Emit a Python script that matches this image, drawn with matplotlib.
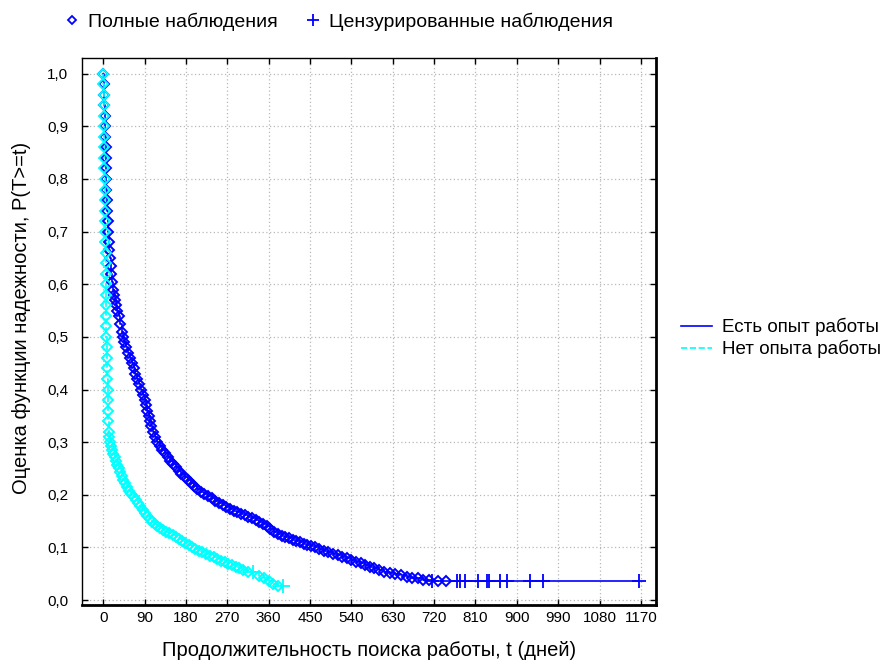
import matplotlib
matplotlib.use("Agg")
import matplotlib.pyplot as plt
from matplotlib.lines import Line2D
from matplotlib.ticker import FixedLocator, FuncFormatter

plt.rcParams['font.family'] = ['Liberation Sans', 'DejaVu Sans']

# --- Есть опыт работы (blue): complete observations, t (days) and S(t)
exp_t = [0, 1, 2, 2, 3, 3, 4, 5, 5, 6, 7, 7, 8, 9, 10, 11, 12, 13, 14, 16,
         18, 20, 22, 24, 26, 28, 31, 34, 37, 40, 43, 46, 50, 54, 58, 62, 66,
         70, 74, 78, 82, 86, 90, 93, 96, 99, 102, 105, 109, 113, 118, 123, 128,
         134, 140, 146, 152, 158, 164, 170, 177, 184, 191, 198, 205, 212, 220,
         228, 236, 244, 252, 260, 268, 276, 284, 292, 300, 308, 316, 324, 332,
         340, 348, 356, 364, 372, 380, 388, 396, 404, 412, 420, 428, 436, 444,
         452, 460, 470, 480, 490, 500, 510, 520, 530, 540, 550, 560, 570, 580,
         590, 600, 612, 624, 636, 648, 660, 672, 684, 696, 710, 728, 745]
exp_s = [1.0, 0.98, 0.96, 0.94, 0.92, 0.90, 0.88, 0.86, 0.84, 0.82, 0.80, 0.78,
         0.76, 0.74, 0.72, 0.70, 0.68, 0.665, 0.65, 0.635, 0.62, 0.605, 0.59,
         0.58, 0.57, 0.56, 0.55, 0.54, 0.525, 0.51, 0.50, 0.49, 0.48, 0.47,
         0.46, 0.45, 0.44, 0.43, 0.42, 0.41, 0.40, 0.39, 0.38, 0.37, 0.36,
         0.35, 0.34, 0.33, 0.32, 0.31, 0.30, 0.293, 0.286, 0.279, 0.272, 0.265,
         0.258, 0.252, 0.246, 0.24, 0.234, 0.228, 0.222, 0.216, 0.211, 0.206,
         0.201, 0.197, 0.193, 0.189, 0.185, 0.181, 0.177, 0.173, 0.17, 0.167,
         0.164, 0.161, 0.158, 0.155, 0.152, 0.149, 0.145, 0.14, 0.135, 0.13,
         0.126, 0.122, 0.119, 0.117, 0.114, 0.112, 0.11, 0.107, 0.105, 0.102,
         0.1, 0.097, 0.094, 0.091, 0.088, 0.085, 0.082, 0.079, 0.076, 0.073,
         0.07, 0.066, 0.063, 0.06, 0.057, 0.054, 0.051, 0.049, 0.047, 0.044,
         0.042, 0.041, 0.039, 0.038, 0.037, 0.036]
# censored observations
exp_cens_t = [715, 770, 776, 787, 815, 835, 839, 863, 878, 928, 957, 1166]
exp_cens_s = [0.037, 0.036, 0.036, 0.036, 0.036, 0.036, 0.036, 0.036, 0.036,
              0.036, 0.036, 0.036]

# --- Нет опыта работы (cyan)
noexp_t = [0, 0, 1, 1, 1, 1, 2, 2, 2, 2, 3, 3, 3, 3, 4, 4, 4, 5, 5, 5, 6, 6,
           6, 7, 7, 7, 8, 8, 9, 9, 10, 10, 11, 11, 12, 13, 15, 17, 19, 22, 25,
           28, 31, 34, 37, 40, 44, 48, 52, 56, 61, 66, 71, 76, 81, 86, 91, 96,
           101, 106, 112, 118, 124, 130, 137, 144, 151, 158, 165, 172, 179, 186,
           193, 200, 208, 216, 224, 232, 240, 248, 256, 264, 272, 280, 288, 296,
           304, 314, 340, 350, 360, 370, 380]
noexp_s = [1.0, 0.98, 0.96, 0.94, 0.92, 0.90, 0.88, 0.86, 0.84, 0.82, 0.80,
           0.78, 0.76, 0.74, 0.72, 0.70, 0.68, 0.66, 0.64, 0.62, 0.60, 0.58,
           0.56, 0.54, 0.52, 0.50, 0.48, 0.46, 0.44, 0.42, 0.40, 0.38, 0.36,
           0.34, 0.32, 0.31, 0.30, 0.292, 0.285, 0.278, 0.271, 0.264, 0.257,
           0.25, 0.243, 0.236, 0.229, 0.222, 0.215, 0.208, 0.202, 0.196, 0.19,
           0.184, 0.178, 0.172, 0.166, 0.16, 0.154, 0.149, 0.144, 0.14, 0.136,
           0.133, 0.13, 0.127, 0.124, 0.12, 0.116, 0.112, 0.108, 0.104, 0.1,
           0.097, 0.094, 0.091, 0.087, 0.084, 0.081, 0.078, 0.075, 0.072, 0.069,
           0.066, 0.063, 0.06, 0.057, 0.054, 0.046, 0.041, 0.036, 0.031, 0.026]
noexp_cens_t = [326, 391]
noexp_cens_s = [0.054, 0.026]

xticks = list(range(0, 1171, 90))
yticks = [i / 10 for i in range(11)]

BLUE = '#0000ff'
CYAN = '#00ffff'

fig = plt.figure(figsize=(8.92, 6.62), dpi=100)
ax = fig.add_axes([0.092, 0.086, 0.6435, 0.8265])

for t, s, ct, cs, col, ls in [(exp_t, exp_s, exp_cens_t, exp_cens_s, BLUE, '-'),
                              (noexp_t, noexp_s, noexp_cens_t, noexp_cens_s, CYAN, '--')]:
    pts = sorted(list(zip(t, s)) + list(zip(ct, cs)), key=lambda p: (p[0], -p[1]))
    ax.plot([p[0] for p in pts], [p[1] for p in pts], color=col, ls=ls,
            lw=1.2, drawstyle='steps-post', zorder=3)
    ax.plot(t, s, ls='none', marker='D', ms=5, mew=1.4, fillstyle='none',
            color=col, zorder=4)
    ax.plot(ct, cs, ls='none', marker='+', ms=10, mew=1.3, color=col, zorder=4)

ax.set_xlim(-46, 1203)
ax.set_ylim(-0.0095, 1.03)
ax.xaxis.set_major_locator(FixedLocator(xticks))
ax.yaxis.set_major_locator(FixedLocator(yticks))
ax.yaxis.set_major_formatter(FuncFormatter(lambda v, p: f"{v:.1f}".replace('.', ',')))
ax.grid(True, color='#b8b8b8', ls=(0, (1, 2)), lw=0.9)
ax.tick_params(direction='in', length=4, width=1, top=True, right=True,
               labelsize=11, colors='black')
ax.tick_params(axis='x', pad=4)
ax.tick_params(axis='y', pad=10)
for side in ['left', 'top']:
    ax.spines[side].set_linewidth(1.0)
for side in ['right', 'bottom']:
    ax.spines[side].set_linewidth(2.0)

ax.set_xlabel('Продолжительность поиска работы, t (дней)', fontsize=14.5, labelpad=12)
ax.set_ylabel('Оценка функции надежности, P(T>=t)', fontsize=14.5)
ax.yaxis.set_label_coords(-0.089, 0.525)

top_handles = [Line2D([], [], ls='none', marker='D', ms=4.5, mew=1.3, fillstyle='none', color=BLUE),
               Line2D([], [], ls='none', marker='+', ms=9, mew=1.3, color=BLUE)]
fig.legend(top_handles, ['Полные наблюдения', 'Цензурированные наблюдения'],
           loc='center left', bbox_to_anchor=(0.050, 0.967), ncol=2, frameon=False,
           fontsize=14, handlelength=1.0, handletextpad=0.33, columnspacing=1.3)

side_handles = [Line2D([], [], color=BLUE, lw=1.2, ls='-'),
                Line2D([], [], color=CYAN, lw=1.2, ls='--')]
fig.legend(side_handles, ['Есть опыт работы', 'Нет опыта работы'],
           loc='center left', bbox_to_anchor=(0.744, 0.489), frameon=False,
           fontsize=13.5, handlelength=1.7, handletextpad=0.5, labelspacing=0.2)

fig.savefig('out.png', dpi=100)
